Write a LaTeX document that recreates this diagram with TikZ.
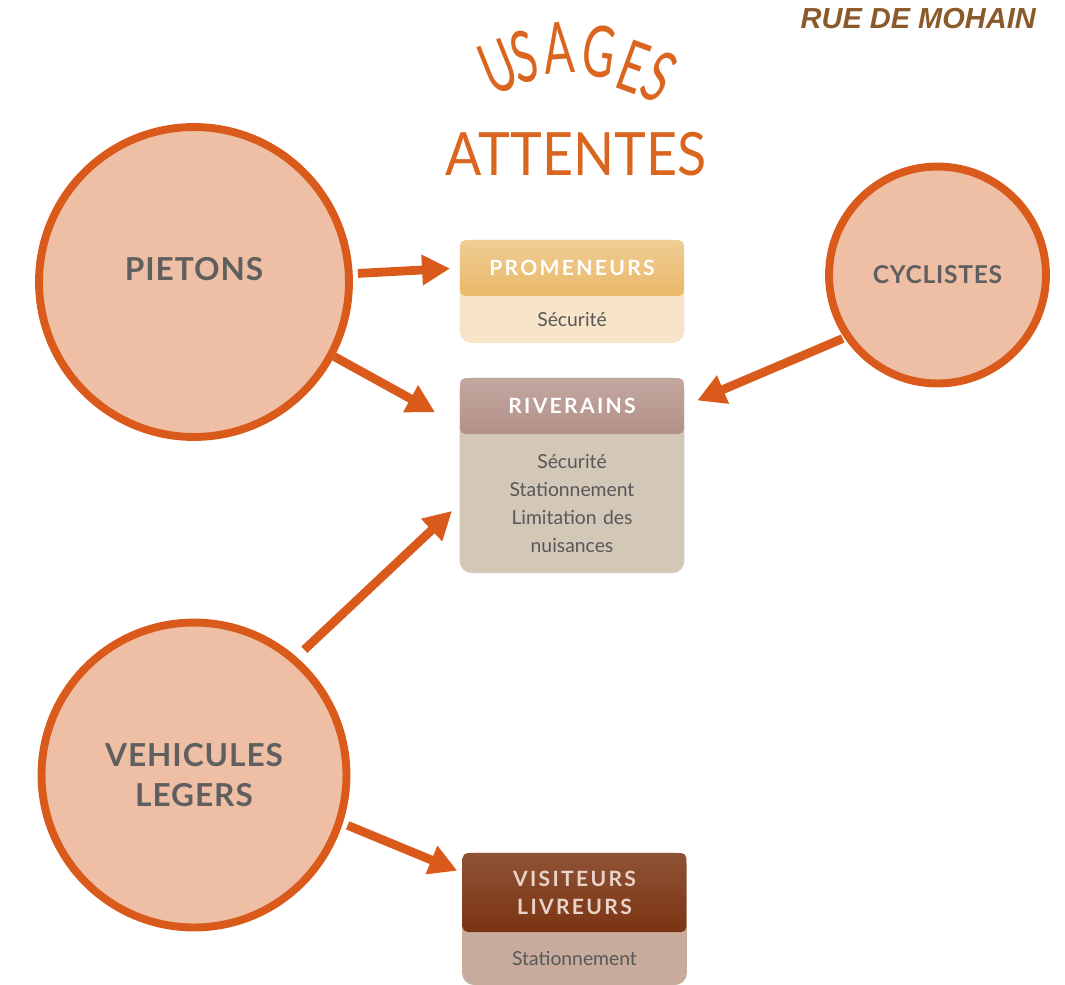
\documentclass[tikz,border=0pt]{standalone}
\usepackage{fontspec}
\setmainfont{Lato}
\newfontfamily\circfont[LetterSpace=3]{Lato}
\newfontfamily\headfont[LetterSpace=11]{Lato}
\newfontfamily\ruefont{Liberation Sans}
\usetikzlibrary{positioning,arrows.meta,fit,backgrounds}
\definecolor{orangeline}{RGB}{217,90,26}
\definecolor{circfill}{RGB}{239,191,165}
\definecolor{circtext}{RGB}{95,95,95}
\definecolor{titleorange}{RGB}{217,101,30}
\definecolor{ruebrown}{RGB}{139,90,43}
\definecolor{promhd}{RGB}{233,184,104}
\definecolor{prombd}{RGB}{248,228,200}
\definecolor{rivhd}{RGB}{179,145,136}
\definecolor{rivbd}{RGB}{211,199,184}
\definecolor{vishd}{RGB}{123,52,18}
\definecolor{visbd}{RGB}{199,172,158}
\definecolor{vistx}{RGB}{232,211,200}
\definecolor{bodytx}{RGB}{88,88,88}
\begin{document}
\begin{tikzpicture}[x=0.02cm,y=-0.02cm,
    usager/.style={circle,draw=orangeline,line width=4.5pt,fill=circfill,text=circtext,align=center,
        font=\circfont\bfseries\fontsize{18}{22.7}\selectfont},
    entete/.style={rectangle,rounded corners=3pt,minimum width=4.48cm,minimum height=1.12cm,align=center,
        text=white,font=\headfont\bfseries\fontsize{12}{16}\selectfont},
    attente/.style={below=0pt of #1,inner xsep=0pt,text width=4.48cm,align=center,text=bodytx,
        font=\fontsize{11}{16}\selectfont},
    fond/.style={inner sep=0pt,rounded corners=0.24cm},
    titre/.style={text=titleorange,font=\fontsize{34}{34}\selectfont,inner sep=0pt},
    fleche/.style={draw=orangeline,line width=5pt,-{Triangle[length=0.56cm,width=0.58cm]}}]
\useasboundingbox (0,0) rectangle (1065,984);

\node[anchor=base east,text=ruebrown,font=\ruefont\bfseries\itshape\fontsize{16.5}{16}\selectfont] (rue) at (1042,28) {RUE DE MOHAIN};

% titre
\foreach \ch/\cx/\cy/\ang [count=\i] in {U/498/67/22,S/524/57/14,A/559/48/4,G/599/52/-8,E/633/67/-20,S/659/77/-28}
    \node[titre,font=\fontsize{30}{30}\selectfont,rotate=\ang,xscale=0.85,yscale=1.35] (usage\i) at (\cx,\cy) {\ch};
\node[titre,xscale=0.9,anchor=base] (attentes) at (576,175) {ATTENTES};

% usagers
\node[usager,minimum size=6.2cm] (pietons) at (194,282) {\raisebox{1pt}[0pt][0pt]{PIETONS}};
\node[usager,minimum size=4.34cm,font=\circfont\bfseries\fontsize{14}{16}\selectfont] (cyclistes) at (937.5,275) {CYCLISTES};
\node[usager,minimum size=6.1cm] (vehicules) at (194,775) {VEHICULES\\LEGERS};

% attentes
\node[entete,top color=promhd!70!white,bottom color=promhd] (promhead) at (572,268) {PROMENEURS};
\node[attente=promhead,minimum height=0.92cm] (promtext) {S\'ecurit\'e};
\node[entete,top color=rivhd!80!white,bottom color=rivhd] (rivhead) at (572,406) {RIVERAINS};
\node[attente=rivhead,minimum height=2.76cm] (rivtext) {S\'ecurit\'e\\Stationnement\\Limitation des\\nuisances};
\node[entete,minimum height=1.58cm,top color=vishd!85!white,bottom color=vishd,text=vistx] (vishead) at (574.5,892.5) {VISITEURS\\LIVREURS};
\node[attente=vishead,minimum height=1.04cm] (vistext) {Stationnement};
\begin{scope}[on background layer]
    \node[fond,fill=prombd,fit=(promhead)(promtext)] (promfond) {};
    \node[fond,fill=rivbd,fit=(rivhead)(rivtext)] (rivfond) {};
    \node[fond,fill=visbd,fit=(vishead)(vistext)] (visfond) {};
\end{scope}

\draw[fleche,shorten <=3pt,shorten >=5.5pt] (pietons.3) -- (promhead.west);
\draw[fleche,shorten >=16pt] (pietons.-28) -- (rivhead.190);
\draw[fleche,shorten <=1pt,shorten >=8pt] (cyclistes.214) -- (rivhead.east);
\draw[fleche,shorten <=6pt,shorten >=6pt] (vehicules.49) -- (rivtext.west);
\draw[fleche,shorten <=3pt,shorten >=3pt] (vehicules.-18) -- (vishead.170);
\end{tikzpicture}
\end{document}
